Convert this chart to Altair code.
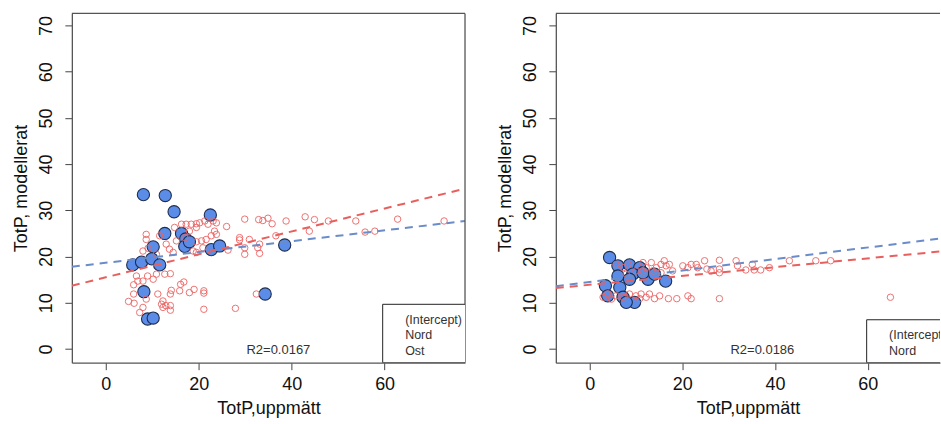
import altair as alt
import pandas as pd

FONT = "Liberation Sans"

# ---------------- left panel data ----------------
left_blue_x = [8.1, 12.8, 14.7, 22.5, 12.7, 16.3, 17.2, 17.0, 18.0, 10.2, 22.7,
               24.5, 38.5, 5.8, 7.7, 9.9, 11.6, 8.2, 34.3, 9.0, 10.2]
left_blue_y = [33.4, 33.2, 29.7, 29.0, 25.0, 25.0, 23.8, 22.2, 23.2, 22.1, 21.5,
               22.3, 22.5, 18.2, 18.8, 19.5, 18.2, 12.4, 11.9, 6.5, 6.7]

left_red_x = [26.0, 29.9, 32.9, 33.8, 34.9, 35.8, 38.8, 42.9, 43.8, 44.9, 47.9,
              53.8, 55.8, 57.9, 62.8, 72.8, 36.6, 28.8, 28.8, 30.9, 29.9, 29.9,
              32.7, 33.1, 33.1, 32.4, 27.9, 21.1, 21.1, 21.1, 19.0, 18.0, 16.8,
              16.1, 15.9, 14.1, 13.9, 13.9, 12.7, 12.3, 12.0, 12.3, 13.9, 13.9,
              12.9, 11.2, 8.7, 8.0, 7.3, 4.9, 6.1, 6.0, 6.0, 6.6, 6.9, 8.0, 9.0,
              10.2, 10.9, 8.7, 8.7, 9.1, 8.0, 10.9, 11.6, 13.0, 13.7, 14.5, 15.2,
              14.8, 16.3, 17.3, 18.4, 19.5, 20.2, 21.3, 22.0, 23.1, 23.8, 23.4,
              22.7, 21.6, 20.6, 19.5, 18.8, 19.5, 20.9, 26.3, 23.8, 19.5, 18.0,
              17.0]
left_red_y = [26.5, 28.1, 28.0, 27.8, 28.3, 27.1, 27.7, 28.6, 25.5, 28.0, 27.7,
              27.7, 25.3, 25.5, 28.1, 27.7, 24.5, 24.1, 23.6, 23.7, 21.9, 20.5,
              21.9, 20.7, 22.7, 11.9, 8.8, 8.6, 12.6, 12.1, 12.9, 12.2, 14.5,
              14.0, 12.6, 12.7, 11.9, 16.3, 16.2, 10.4, 9.7, 9.0, 9.4, 8.4,
              9.4, 11.9, 10.8, 9.0, 7.9, 10.3, 9.9, 11.9, 13.9, 15.8, 14.7, 14.7,
              15.8, 15.1, 16.2, 24.8, 23.7, 21.8, 21.2, 20.5, 24.5, 22.7, 21.6,
              20.9, 23.4, 26.3, 27.0, 27.0, 27.0, 27.1, 27.3, 27.7, 27.0, 27.7,
              27.3, 25.5, 24.5, 23.7, 23.4, 23.2, 21.2, 20.9, 21.9, 21.4, 24.8,
              26.3, 25.5, 24.1]

left_line_x = [-7.3, 77.3]
left_blue_line_y = [17.8, 27.7]
left_red_line_y = [13.7, 34.7]
left_legend = ["(Intercept)", "Nord", "Ost"]
left_r2 = "R2=0.0167"

# ---------------- right panel data ----------------
right_blue_x = [4.3, 6.1, 8.6, 10.8, 6.1, 9.3, 8.6, 12.6, 16.4, 3.4, 6.5, 3.9,
                7.2, 9.7, 7.9, 11.5, 14.0]
right_blue_y = [19.8, 18.0, 18.2, 17.6, 15.8, 16.2, 15.1, 15.1, 14.7, 13.7, 13.3,
                11.5, 11.2, 10.1, 10.1, 16.5, 16.2]

right_red_x = [13.3, 15.4, 16.5, 17.9, 20.1, 21.2, 21.9, 23.0, 23.3, 24.8, 25.3,
               26.2, 28.0, 28.0, 28.0, 31.6, 31.9, 33.7, 35.1, 35.5, 36.9, 38.8,
               43.1, 48.8, 52.0, 64.9, 5.7, 7.2, 8.3, 10.0, 11.5, 12.2, 13.6,
               14.4, 15.4, 16.1, 17.2, 11.5, 7.9, 2.9, 3.9, 4.7, 5.7, 7.2, 8.6,
               10.0, 11.1, 12.2, 12.9, 14.0, 15.1, 17.0, 18.8, 21.2, 21.9, 28.0,
               10.8]
right_red_y = [18.7, 18.3, 18.0, 16.9, 18.0, 17.6, 18.3, 18.3, 17.6, 19.1, 17.3,
               16.9, 19.2, 17.3, 16.5, 19.1, 18.0, 17.1, 18.3, 17.1, 17.1, 17.6,
               19.1, 19.1, 19.1, 11.2, 18.3, 17.6, 18.3, 16.9, 18.7, 17.6, 16.9,
               17.6, 16.5, 19.1, 18.3, 16.9, 16.2, 11.2, 11.9, 10.8, 11.5, 11.2,
               11.9, 11.5, 11.9, 11.2, 11.9, 10.9, 11.5, 10.9, 10.9, 11.5, 10.9,
               10.9, 10.9]

right_line_x = [-7.3, 75.6]
right_blue_line_y = [13.6, 23.9]
right_red_line_y = [13.2, 21.1]
right_legend = ["(Intercept)", "Nord"]
right_r2 = "R2=0.0186"

X_TICKS = [0, 20, 40, 60]
Y_TICKS = [0, 10, 20, 30, 40, 50, 60, 70]
Y_DOMAIN = [-2.95, 72.6]

BLUE_FILL = "#5b8de8"
BLUE_EDGE = "#1e2d4f"
RED = "#ec6262"
BLUE_LINE = "#6a8cc8"
RED_LINE = "#e8605e"
BORDER = "#555555"
H = 350


def panel(bx, by, rx, ry, lx, bly, rly, xmax, width, legend, r2, right_border):
    xs = alt.Scale(domain=[-7.3, xmax], nice=False, zero=False)
    ys = alt.Scale(domain=Y_DOMAIN, nice=False, zero=False)
    xax = alt.Axis(values=X_TICKS, title="TotP,uppmätt", format="d",
                   labelPadding=6, titlePadding=6, labelFlush=False,
                   labelOverlap=False)
    yax = alt.Axis(values=Y_TICKS, title="TotP, modellerat", format="d",
                   labelAngle=270, labelAlign="center", labelBaseline="bottom",
                   labelPadding=9, titlePadding=7, labelFlush=False,
                   labelOverlap=False)

    blue = pd.DataFrame({"x": bx, "y": by})
    red = pd.DataFrame({"x": rx, "y": ry})
    bline = pd.DataFrame({"x": lx, "y": bly})
    rline = pd.DataFrame({"x": lx, "y": rly})

    base_blue = alt.Chart(blue).mark_point(
        shape="circle", filled=True, size=150, fill=BLUE_FILL, stroke=BLUE_EDGE,
        strokeWidth=1.1, opacity=1
    ).encode(x=alt.X("x:Q", scale=xs, axis=xax), y=alt.Y("y:Q", scale=ys, axis=yax))

    base_red = alt.Chart(red).mark_point(
        shape="circle", filled=False, size=42, stroke=RED, strokeWidth=1, opacity=0.9
    ).encode(x=alt.X("x:Q", scale=xs), y=alt.Y("y:Q", scale=ys))

    l_blue = alt.Chart(bline).mark_line(
        color=BLUE_LINE, strokeDash=[8, 6], strokeWidth=2, clip=True
    ).encode(x=alt.X("x:Q", scale=xs), y=alt.Y("y:Q", scale=ys))
    l_red = alt.Chart(rline).mark_line(
        color=RED_LINE, strokeDash=[8, 6], strokeWidth=2, clip=True
    ).encode(x=alt.X("x:Q", scale=xs), y=alt.Y("y:Q", scale=ys))

    dummy = alt.Data(values=[{}])
    layers = [base_blue, base_red, l_blue, l_red]

    # frame: top rule (+ right rule)
    layers.append(alt.Chart(dummy).mark_rule(color=BORDER, strokeWidth=1.3).encode(
        x=alt.value(0), x2=alt.value(width), y=alt.value(0)))
    if right_border:
        layers.append(alt.Chart(dummy).mark_rule(color=BORDER, strokeWidth=1.3).encode(
            x=alt.value(width), y=alt.value(0), y2=alt.value(H)))

    # legend box
    row = 15.5
    last = 338
    n = len(legend)
    top = last - row * (n - 1) - 15.5
    layers.append(alt.Chart(dummy).mark_rect(
        fill="white", stroke="#222222", strokeWidth=1, clip=True
    ).encode(x=alt.value(311.5), x2=alt.value(420), y=alt.value(top), y2=alt.value(H)))
    for i, lab in enumerate(legend):
        layers.append(alt.Chart(dummy).mark_text(
            text=lab, align="left", baseline="middle", font=FONT, fontSize=12.5,
            color="#333333", clip=True
        ).encode(x=alt.value(334), y=alt.value(last - row * (n - 1 - i))))

    layers.append(alt.Chart(dummy).mark_text(
        text=r2, align="center", baseline="middle", font=FONT, fontSize=13,
        color="#333333"
    ).encode(x=alt.value(207), y=alt.value(337.5)))

    return alt.layer(*layers).properties(width=width, height=H)


left = panel(left_blue_x, left_blue_y, left_red_x, left_red_y, left_line_x,
             left_blue_line_y, left_red_line_y, 77.3, 394, left_legend, left_r2, True)
right = panel(right_blue_x, right_blue_y, right_red_x, right_red_y, right_line_x,
              right_blue_line_y, right_red_line_y, 75.6, 385, right_legend, right_r2, False)

chart = alt.hconcat(left, right, spacing=31).properties(
    padding={"left": 13, "top": 12, "right": 0, "bottom": 0},
    background="white",
).configure_view(strokeWidth=0).configure_axis(
    grid=False, labelFont=FONT, titleFont=FONT, labelFontSize=18, titleFontSize=18,
    titleFontWeight="normal", labelColor="#111111", titleColor="#111111",
    tickColor="#444444", tickSize=7, tickWidth=1, domainColor=BORDER, domainWidth=1.3,
)

chart.save("out.html", embed_options={"renderer": "svg", "actions": False})
